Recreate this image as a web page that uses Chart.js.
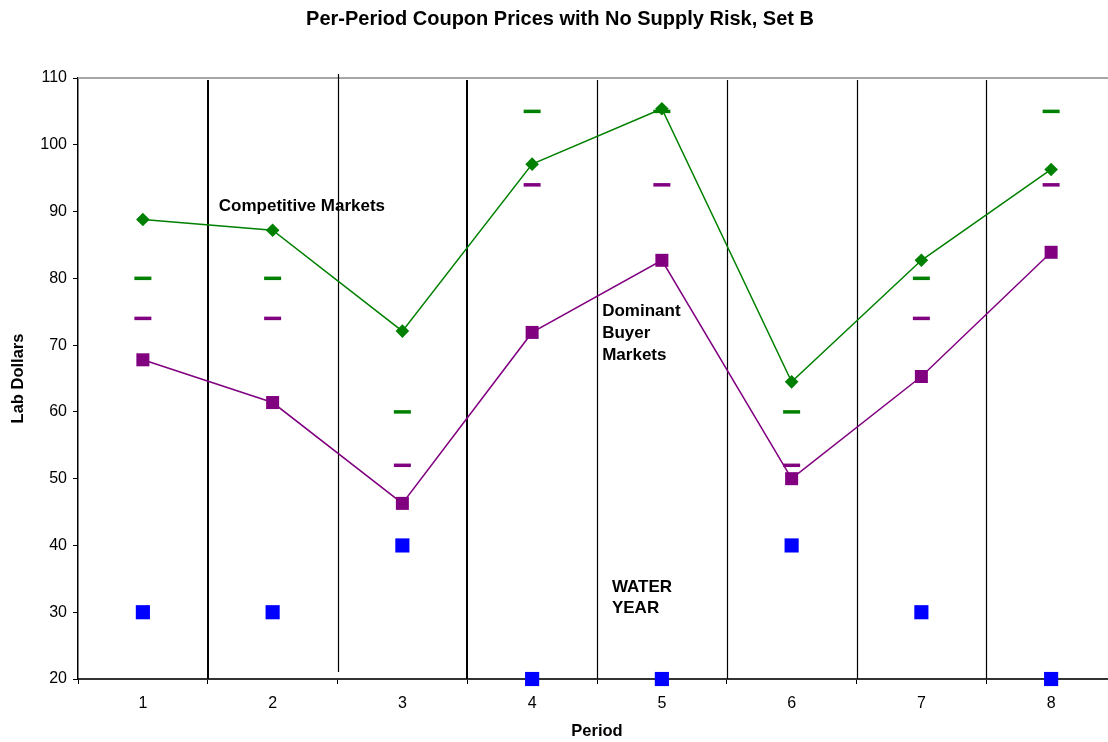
<!DOCTYPE html>
<html>
<head>
<meta charset="utf-8">
<script src="https://cdn.jsdelivr.net/npm/chart.js@4.4.0/dist/chart.umd.min.js"></script>
<style>
  html, body { margin: 0; padding: 0; background: #fff; overflow: hidden; }
  canvas { display: block; }
</style>
</head>
<body>
<canvas id="chart" width="1128" height="742"></canvas>
<script>
// Periods of the experiment session
const periods = ['1', '2', '3', '4', '5', '6', '7', '8'];

// Mean coupon prices observed in each period
const competitivePrices   = [88.8, 87.2, 72.1, 97.1, 105.4, 64.5, 82.7, 96.3];
const dominantBuyerPrices = [67.8, 61.4, 46.3, 71.9, 82.7, 50.0, 65.3, 83.9];

// Predicted equilibrium prices (short dashes)
const competitivePrediction   = [80, 80, 60, 105, 105, 60, 80, 105];
const dominantBuyerPrediction = [74, 74, 52, 94, 94, 52, 74, 94];

// Water year level for each period
const waterYear = [30, 30, 40, 20, 20, 40, 30, 20];

// Value axis ticks
const yTicks = [20, 30, 40, 50, 60, 70, 80, 90, 100, 110];

const chartTitle = 'Per-Period Coupon Prices with No Supply Risk, Set B';

const GREEN = '#008000';
const PURPLE = '#800080';
const BLUE = '#0000ff';
const FONT = '"Liberation Sans", Arial, Helvetica, sans-serif';

// Title, frame line, period separators and text notes
const decorations = {
  id: 'decorations',
  beforeDatasetsDraw(chart) {
    const { ctx, chartArea: a, scales: { x, y } } = chart;
    ctx.save();

    // chart title
    ctx.fillStyle = '#000';
    ctx.font = 'bold 20px ' + FONT;
    ctx.textAlign = 'center';
    ctx.textBaseline = 'middle';
    ctx.fillText(chartTitle, 560, 19);

    // light frame line along the top of the plot
    ctx.strokeStyle = '#a6a6a6';
    ctx.lineWidth = 2;
    ctx.beginPath();
    ctx.moveTo(a.left, a.top);
    ctx.lineTo(a.right, a.top);
    ctx.stroke();

    // vertical separators between periods
    ctx.strokeStyle = '#000';
    for (let i = 0; i < periods.length - 1; i++) {
      const px = Math.round((x.getPixelForValue(i) + x.getPixelForValue(i + 1)) / 2);
      const heavy = (i === 0 || i === 2);
      let top = a.top + 2;
      let bottom = a.bottom;
      if (i === 1) { top = a.top - 4; bottom = a.bottom - 7; }
      ctx.lineWidth = heavy ? 2 : 1.2;
      const sx = heavy ? px : px + 0.5;
      ctx.beginPath();
      ctx.moveTo(sx, top);
      ctx.lineTo(sx, bottom);
      ctx.stroke();
    }

    // notes inside the plot
    ctx.fillStyle = '#000';
    ctx.font = 'bold 17px ' + FONT;
    ctx.textAlign = 'left';
    ctx.textBaseline = 'middle';
    const note = (text, xv, yv) => ctx.fillText(text, x.getPixelForValue(xv), y.getPixelForValue(yv));
    note('Competitive Markets', 0.585, 90.8);
    note('Dominant', 3.54, 75.1);
    note('Buyer', 3.54, 71.8);
    note('Markets', 3.54, 68.5);
    note('WATER', 3.615, 33.8);
    note('YEAR', 3.615, 30.6);

    ctx.restore();
  }
};

new Chart(document.getElementById('chart'), {
  type: 'line',
  data: {
    labels: periods,
    datasets: [
      {
        label: 'Competitive Markets',
        data: competitivePrices,
        borderColor: GREEN,
        backgroundColor: GREEN,
        borderWidth: 1.5,
        pointStyle: 'rectRot',
        pointRadius: 6.8,
        pointBorderWidth: 0,
        tension: 0,
        clip: false
      },
      {
        label: 'Dominant Buyer Markets',
        data: dominantBuyerPrices,
        borderColor: PURPLE,
        backgroundColor: PURPLE,
        borderWidth: 1.5,
        pointStyle: 'rect',
        pointRadius: 9.2,
        pointBorderWidth: 0,
        tension: 0,
        clip: false
      },
      {
        label: 'Competitive Prediction',
        data: competitivePrediction,
        showLine: false,
        borderColor: GREEN,
        backgroundColor: GREEN,
        pointStyle: 'line',
        pointRadius: 8.5,
        pointBorderWidth: 3.5,
        clip: false
      },
      {
        label: 'Dominant Buyer Prediction',
        data: dominantBuyerPrediction,
        showLine: false,
        borderColor: PURPLE,
        backgroundColor: PURPLE,
        pointStyle: 'line',
        pointRadius: 8.5,
        pointBorderWidth: 3.5,
        clip: false
      },
      {
        label: 'Water Year',
        data: waterYear,
        showLine: false,
        borderColor: BLUE,
        backgroundColor: BLUE,
        pointStyle: 'rect',
        pointRadius: 10,
        pointBorderWidth: 0,
        clip: false
      }
    ]
  },
  options: {
    responsive: false,
    animation: false,
    events: [],
    layout: { padding: { left: 0, right: 0, top: 78, bottom: 0 } },
    plugins: {
      legend: { display: false },
      tooltip: { enabled: false },
      title: { display: false }
    },
    scales: {
      x: {
        type: 'category',
        offset: true,
        grid: {
          offset: true,
          drawOnChartArea: false,
          drawTicks: true,
          tickLength: 5,
          color: '#000',
          lineWidth: 1
        },
        border: { display: true, color: '#333', width: 2 },
        ticks: {
          color: '#000',
          font: { family: FONT, size: 16 },
          padding: 10,
          maxRotation: 0
        },
        title: {
          display: true,
          text: 'Period',
          color: '#000',
          font: { family: FONT, size: 16.5, weight: 'bold' },
          padding: { top: 0, bottom: 1 }
        },
        afterFit(scale) {
          scale.height = 63;
          scale.paddingLeft = 0;
          scale.paddingRight = 0;
        }
      },
      y: {
        min: yTicks[0],
        max: yTicks[yTicks.length - 1],
        grid: {
          drawOnChartArea: false,
          drawTicks: true,
          tickLength: 5,
          color: '#000',
          lineWidth: 1
        },
        border: { display: true, color: '#000', width: 1.5 },
        ticks: {
          stepSize: yTicks[1] - yTicks[0],
          color: '#000',
          font: { family: FONT, size: 16 },
          padding: 6
        },
        afterBuildTicks(scale) { scale.ticks = yTicks.map(v => ({ value: v })); },
        title: {
          display: true,
          text: 'Lab Dollars',
          color: '#000',
          font: { family: FONT, size: 16.5, weight: 'bold' },
          padding: { top: 9, bottom: 0 }
        },
        afterFit(scale) { scale.width = 78; }
      }
    }
  },
  plugins: [decorations]
});
</script>
</body>
</html>
